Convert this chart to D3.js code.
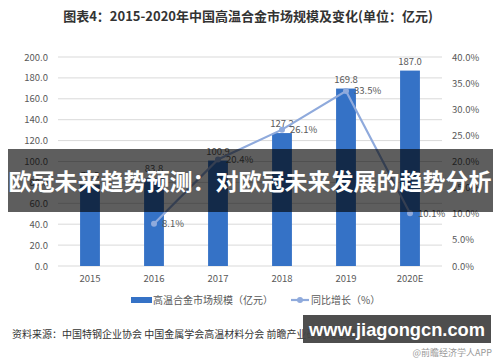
<!DOCTYPE html>
<meta charset="utf-8">
<script src="https://d3js.org/d3.v7.min.js"></script>
<style>
  body { margin: 0; background: #fff; }
  text { font-family: "Noto Sans CJK SC", "Microsoft YaHei", sans-serif; }
</style>
<div id="chart"></div>
<script>

// data
var years = ["2015", "2016", "2017", "2018", "2019", "2020E"];
var marketSize = [77.5, 83.8, 100.9, 127.2, 169.8, 187.0];
var growth = [null, 8.1, 20.4, 26.1, 33.5, 10.1];
var leftTicks = [0, 20, 40, 60, 80, 100, 120, 140, 160, 180, 200];
var rightTicks = [0, 5, 10, 15, 20, 25, 30, 35, 40];

var W = 500, H = 362;
var margin = {top: 57, right: 58, bottom: 96, left: 58},
    width = W - margin.left - margin.right,
    height = H - margin.top - margin.bottom;

var svg = d3.select("#chart")
  .append("svg")
    .attr("width", W)
    .attr("height", H);

// title
svg.append("text")
    .attr("x", 248)
    .attr("y", 21)
    .attr("text-anchor", "middle")
    .style("font-size", "13px")
    .style("font-weight", "bold")
    .attr("fill", "#333")
    .text("图表4：2015-2020年中国高温合金市场规模及变化(单位：亿元)");

var g = svg.append("g")
    .attr("transform", "translate(" + margin.left + "," + margin.top + ")");

var x = d3.scaleBand()
  .domain(years)
  .range([0, width])
  .paddingInner(0.69)
  .paddingOuter(0.345);

var y = d3.scaleLinear().domain([0, 200]).range([height, 0]);
var y2 = d3.scaleLinear().domain([0, 40]).range([height, 0]);

// gridlines
g.selectAll(".grid")
  .data(leftTicks)
  .enter()
  .append("line")
    .attr("x1", 0)
    .attr("x2", width)
    .attr("y1", function(d) { return y(d); })
    .attr("y2", function(d) { return y(d); })
    .attr("stroke", "#d9d9d9")
    .attr("stroke-width", 1);

// left axis
var yAxis = g.append("g")
  .call(d3.axisLeft(y).tickValues(leftTicks).tickFormat(d3.format(".1f")).tickSize(0).tickPadding(10));
yAxis.select(".domain").remove();
yAxis.selectAll("text").attr("fill", "#595959").style("font-size", "9.5px");

// right axis
var y2Axis = g.append("g")
  .attr("transform", "translate(" + width + ",0)")
  .call(d3.axisRight(y2).tickValues(rightTicks).tickFormat(function(d) { return d.toFixed(1) + "%"; }).tickSize(0).tickPadding(10));
y2Axis.select(".domain").remove();
y2Axis.selectAll("text").attr("fill", "#595959").style("font-size", "9.5px");

// x axis
var xAxis = g.append("g")
  .attr("transform", "translate(0," + height + ")")
  .call(d3.axisBottom(x).tickSize(0).tickPadding(9));
xAxis.select(".domain").remove();
xAxis.selectAll("text").attr("fill", "#595959").style("font-size", "9.5px");

// bars
g.selectAll(".bar")
  .data(years)
  .enter()
  .append("rect")
    .attr("x", function(d) { return x(d); })
    .attr("y", function(d, i) { return y(marketSize[i]); })
    .attr("width", x.bandwidth())
    .attr("height", function(d, i) { return height - y(marketSize[i]); })
    .attr("fill", "#3572c6");

// bar labels
g.selectAll(".barlabel")
  .data(years)
  .enter()
  .append("text")
    .attr("x", function(d) { return x(d) + x.bandwidth() / 2; })
    .attr("y", function(d, i) { return y(marketSize[i]) - 6; })
    .attr("text-anchor", "middle")
    .attr("fill", "#595959")
    .style("font-size", "9.5px")
    .text(function(d, i) { return marketSize[i].toFixed(1); });

// growth line
var pts = years.map(function(d, i) { return {year: d, v: growth[i]}; })
  .filter(function(p) { return p.v !== null; });

var line = d3.line()
  .x(function(p) { return x(p.year) + x.bandwidth() / 2; })
  .y(function(p) { return y2(p.v); });

g.append("path")
  .datum(pts)
  .attr("d", line)
  .attr("fill", "none")
  .attr("stroke", "#8faadc")
  .attr("stroke-width", 2.2);

g.selectAll(".pt")
  .data(pts)
  .enter()
  .append("circle")
    .attr("cx", function(p) { return x(p.year) + x.bandwidth() / 2; })
    .attr("cy", function(p) { return y2(p.v); })
    .attr("r", 3)
    .attr("fill", "#8faadc");

g.selectAll(".ptlabel")
  .data(pts)
  .enter()
  .append("text")
    .attr("x", function(p) { return x(p.year) + x.bandwidth() / 2 + 8; })
    .attr("y", function(p) { return y2(p.v) + 3.5; })
    .attr("fill", "#595959")
    .style("font-size", "9.5px")
    .text(function(p) { return p.v.toFixed(1) + "%"; });

// legend
var lg = svg.append("g").attr("transform", "translate(0,300)");
lg.append("rect").attr("x", 131).attr("y", -3).attr("width", 21).attr("height", 6).attr("fill", "#3572c6");
lg.append("text").attr("x", 153).attr("y", 4).attr("fill", "#595959").style("font-size", "10px")
  .text("高温合金市场规模（亿元）");
lg.append("line").attr("x1", 291).attr("x2", 309).attr("y1", 0).attr("y2", 0)
  .attr("stroke", "#8faadc").attr("stroke-width", 2.2);
lg.append("circle").attr("cx", 300).attr("cy", 0).attr("r", 3).attr("fill", "#8faadc");
lg.append("text").attr("x", 311).attr("y", 4).attr("fill", "#595959").style("font-size", "10px")
  .text("同比增长（%）");

// source
svg.append("text")
    .attr("x", 12)
    .attr("y", 338)
    .attr("fill", "#333")
    .style("font-size", "10px")
    .text("资料来源：中国特钢企业协会 中国金属学会高温材料分会 前瞻产业研究院整理");

svg.append("text")
    .attr("x", 492)
    .attr("y", 356)
    .attr("text-anchor", "end")
    .attr("fill", "#999")
    .style("font-size", "9px")
    .text("@前瞻经济学人APP");

// watermark box
svg.append("rect")
    .attr("x", 303).attr("y", 315).attr("width", 188).attr("height", 28)
    .attr("fill", "#444").attr("opacity", 0.95);
svg.append("text")
    .attr("x", 309).attr("y", 336)
    .attr("fill", "#fff")
    .attr("textLength", 176)
    .attr("lengthAdjust", "spacingAndGlyphs")
    .style("font-size", "19px")
    .style("font-weight", "bold")
    .style("font-family", "'Liberation Sans', Arial, sans-serif")
    .text("www.jiagongcn.com");

// dark banner overlay
svg.append("rect")
    .attr("x", 8).attr("y", 149).attr("width", 485).attr("height", 63)
    .attr("fill", "#000").attr("opacity", 0.63);
svg.append("text")
    .attr("x", 250).attr("y", 190)
    .attr("text-anchor", "middle")
    .attr("fill", "#fff")
    .style("font-size", "23px")
    .style("font-weight", "bold")
    .text("欧冠未来趋势预测：对欧冠未来发展的趋势分析");

</script>
